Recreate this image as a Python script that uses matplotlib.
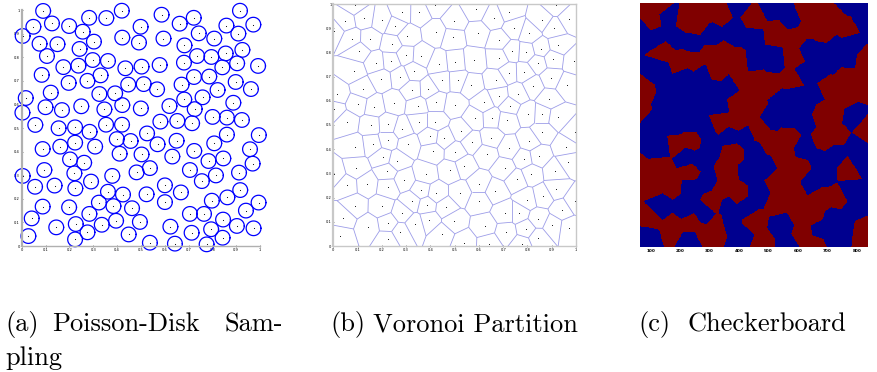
import numpy as np
import matplotlib
matplotlib.use("Agg")
import matplotlib.pyplot as plt
import matplotlib.tri as mtri
from matplotlib.collections import LineCollection
from matplotlib.colors import ListedColormap

# Poisson-disk sample points (unit square)
px = np.array([
    0.090, 0.420, 0.283, 0.355, 0.049, 0.127, 0.199, 0.256, 0.004, 0.075,
    0.150, 0.303, 0.243, 0.422, 0.106, 0.175, 0.238, 0.298, 0.362, 0.435,
    0.084, 0.197, 0.276, 0.331, 0.447, 0.122, 0.326, 0.392, 0.017, 0.100,
    0.169, 0.250, 0.347, 0.422, 0.003,
    0.916, 0.587, 0.722, 0.663, 0.859, 0.972, 0.499, 0.743, 0.909, 0.595,
    0.808, 0.492, 0.683, 0.926, 0.736, 0.796, 0.856, 0.681, 0.904, 0.503,
    0.579, 0.842, 0.992, 0.723, 0.787, 0.898, 0.512, 0.671, 0.568, 0.822,
    0.962, 0.682, 0.759, 0.888, 0.620, 0.726, 0.500, 0.801, 0.861, 0.924,
    0.582, 0.653, 0.715,
    0.526, 0.570, 0.650, 0.861, 0.995, 0.808, 0.724, 0.958, 0.503, 0.632,
    0.784, 0.846, 0.969, 0.538, 0.482, 0.706, 0.815, 0.912, 0.756, 0.601,
    0.668, 0.917, 0.524, 0.601, 0.798, 0.863, 0.994, 0.706, 0.765, 0.941,
    0.496, 0.845, 0.624, 0.795, 0.903, 0.973, 0.713, 0.843, 0.538, 0.643,
    0.776,
    0.057, 0.155, 0.224, 0.285, 0.354, 0.421, 0.399, 0.457, 0.088, 0.162,
    0.224, 0.308, 0.411, 0.203, 0.262, 0.004, 0.095, 0.221, 0.291, 0.380,
    0.056, 0.138, 0.225, 0.362, 0.425, 0.324, 0.385, 0.088, 0.199, 0.463,
    0.284, 0.042, 0.396, 0.145, 0.227, 0.336, 0.028, 0.276, 0.449, 0.224,
])
py = np.array([
    0.996, 0.997, 0.967, 0.966, 0.929, 0.943, 0.932, 0.908, 0.890, 0.857,
    0.855, 0.866, 0.835, 0.883, 0.805, 0.758, 0.764, 0.788, 0.784, 0.753,
    0.725, 0.691, 0.700, 0.723, 0.684, 0.650, 0.644, 0.647, 0.627, 0.588,
    0.576, 0.592, 0.579, 0.597, 0.565,
    0.997, 0.980, 0.967, 0.942, 0.934, 0.938, 0.929, 0.901, 0.900, 0.879,
    0.879, 0.862, 0.850, 0.831, 0.805, 0.801, 0.816, 0.777, 0.774, 0.760,
    0.767, 0.757, 0.763, 0.716, 0.718, 0.695, 0.686, 0.684, 0.664, 0.661,
    0.665, 0.621, 0.630, 0.607, 0.593, 0.580, 0.583, 0.547, 0.544, 0.534,
    0.527, 0.530, 0.520,
    0.477, 0.431, 0.446, 0.472, 0.470, 0.435, 0.403, 0.410, 0.388, 0.379,
    0.360, 0.371, 0.349, 0.330, 0.312, 0.322, 0.299, 0.311, 0.275, 0.257,
    0.227, 0.237, 0.219, 0.186, 0.192, 0.206, 0.184, 0.136, 0.136, 0.150,
    0.102, 0.112, 0.082, 0.071, 0.085, 0.075, 0.056, 0.035, 0.014, 0.010,
    0.007,
    0.513, 0.499, 0.503, 0.484, 0.514, 0.514, 0.453, 0.445, 0.411, 0.421,
    0.438, 0.421, 0.391, 0.367, 0.353, 0.297, 0.322, 0.308, 0.273, 0.297,
    0.251, 0.256, 0.244, 0.230, 0.218, 0.184, 0.169, 0.167, 0.164, 0.160,
    0.136, 0.117, 0.107, 0.079, 0.093, 0.090, 0.042, 0.058, 0.049, 0.028,
])
# checkerboard colour of each cell (1 = red, 0 = blue)
cell_color = np.array([
    1, 0, 1, 1, 1, 0, 1, 1, 0, 0,
    0, 0, 0, 0, 1, 1, 1, 1, 1, 1,
    0, 0, 0, 1, 1, 0, 0, 0, 1, 0,
    0, 0, 0, 1, 1,
    0, 0, 1, 0, 1, 0, 1, 1, 1, 1,
    1, 0, 1, 0, 0, 0, 0, 1, 0, 0,
    0, 0, 1, 0, 0, 1, 1, 1, 1, 1,
    1, 0, 0, 1, 0, 0, 1, 1, 1, 0,
    0, 0, 0,
    1, 1, 1, 1, 1, 1, 0, 0, 0, 1,
    0, 0, 0, 0, 0, 1, 0, 1, 0, 1,
    1, 0, 0, 1, 1, 1, 0, 1, 1, 0,
    1, 0, 0, 0, 0, 1, 1, 0, 1, 0,
    1,
    0, 0, 0, 0, 1, 1, 0, 0, 0, 1,
    1, 0, 1, 0, 0, 1, 1, 1, 0, 1,
    1, 1, 0, 1, 1, 1, 0, 0, 0, 0,
    0, 1, 0, 1, 1, 1, 0, 1, 0, 0,
])

disk_radius = 0.031
unit_ticks = [0, 0.1, 0.2, 0.3, 0.4, 0.5, 0.6, 0.7, 0.8, 0.9, 1]
unit_labels = ["0", "0.1", "0.2", "0.3", "0.4", "0.5", "0.6", "0.7", "0.8", "0.9", "1"]
pix_ticks = [100, 200, 300, 400, 500, 600, 700, 800]
pix_range = (64, 837)

W, H = 878, 372
fig = plt.figure(figsize=(W / 100, H / 100), dpi=100)


def px_axes(x0, y0, x1, y1):
    return fig.add_axes([x0 / W, 1 - y1 / H, (x1 - x0) / W, (y1 - y0) / H])


def small_ticks(ax, color="#b0b0b0"):
    ax.set_xticks(unit_ticks)
    ax.set_xticklabels(unit_labels)
    ax.set_yticks(unit_ticks)
    ax.set_yticklabels(unit_labels)
    ax.tick_params(labelsize=2.6, length=1.5, width=0.5, pad=0.6,
                   direction="inout", color="#555555")
    for s in ax.spines.values():
        s.set_color(color)
        s.set_linewidth(1.0)
    ax.spines["left"].set_linewidth(1.6)


# (a) disks
ax1 = px_axes(21.7, 10, 260, 246)
ax1.set_xlim(0, 1)
ax1.set_ylim(0, 1)
t = np.linspace(0, 2 * np.pi, 60)
for x, y in zip(px, py):
    ax1.plot(x + disk_radius * np.cos(t), y + disk_radius * np.sin(t),
             color="#0000ff", lw=0.9, clip_on=False)
ax1.plot(px, py, ".", color="k", ms=1.6, mew=0, clip_on=False)
small_ticks(ax1)
ax1.spines["top"].set_visible(False)
ax1.spines["right"].set_visible(False)

# (b) Voronoi edges from the Delaunay triangulation
tri = mtri.Triangulation(px, py)
T = tri.triangles
ax_, ay_ = px[T[:, 0]], py[T[:, 0]]
bx_, by_ = px[T[:, 1]], py[T[:, 1]]
cx_, cy_ = px[T[:, 2]], py[T[:, 2]]
d = 2 * (ax_ * (by_ - cy_) + bx_ * (cy_ - ay_) + cx_ * (ay_ - by_))
ux = ((ax_**2 + ay_**2) * (by_ - cy_) + (bx_**2 + by_**2) * (cy_ - ay_)
      + (cx_**2 + cy_**2) * (ay_ - by_)) / d
uy = ((ax_**2 + ay_**2) * (cx_ - bx_) + (bx_**2 + by_**2) * (ax_ - cx_)
      + (cx_**2 + cy_**2) * (bx_ - ax_)) / d
segs = []
for i in range(len(T)):
    for j in range(3):
        n = tri.neighbors[i, j]
        if n > i:
            segs.append([(ux[i], uy[i]), (ux[n], uy[n])])
        elif n == -1:
            p1 = np.array([px[T[i, j]], py[T[i, j]]])
            p2 = np.array([px[T[i, (j + 1) % 3]], py[T[i, (j + 1) % 3]]])
            p3 = np.array([px[T[i, (j + 2) % 3]], py[T[i, (j + 2) % 3]]])
            e = p2 - p1
            nrm = np.array([e[1], -e[0]]) / np.hypot(*e)
            if np.dot(nrm, p3 - p1) > 0:
                nrm = -nrm
            segs.append([(ux[i], uy[i]), (ux[i] + 3 * nrm[0], uy[i] + 3 * nrm[1])])

ax2 = px_axes(333.3, 4, 576, 246)
ax2.add_collection(LineCollection(segs, colors="#9c9ce8", linewidths=0.6))
ax2.plot(px, py, ".", color="k", ms=1.3, mew=0)
ax2.set_xlim(0, 1)
ax2.set_ylim(0, 1)
small_ticks(ax2, color="#c8c8c8")

# (c) two-colour fill of the Voronoi cells
N = 500
g = (np.arange(N) + 0.5) / N
labels = np.empty((N, N), dtype=int)
for r in range(N):
    labels[r] = np.argmin((g[:, None] - px) ** 2 + (g[r] - py) ** 2, axis=1)
board = cell_color[labels]

ax3 = px_axes(640, 3, 868, 247)
ax3.imshow(board, origin="lower", cmap=ListedColormap(["#00008f", "#800000"]),
           extent=(pix_range[0], pix_range[1], 0, 1), aspect="auto",
           interpolation="nearest")
ax3.set_xlim(*pix_range)
ax3.set_ylim(0, 1)
ax3.set_xticks(pix_ticks)
ax3.set_yticks([])
ax3.tick_params(labelsize=3, length=0, pad=1.5)
for lab in ax3.get_xticklabels():
    lab.set_fontweight("bold")
for s in ax3.spines.values():
    s.set_visible(False)

# sub-captions
cap = dict(family="cmr10", fontsize=19, va="baseline", ha="left")
fig.text(5 / W, 1 - 331 / H, "(a)", **cap)
fig.text(52 / W, 1 - 331 / H, "Poisson-Disk", **cap)
fig.text(224 / W, 1 - 331 / H, "Sam-", **cap)
fig.text(5 / W, 1 - 365 / H, "pling", **cap)
fig.text(330 / W, 1 - 331 / H, "(b)", **cap)
fig.text(373 / W, 1 - 331 / H, "Voronoi Partition", **cap)
fig.text(638 / W, 1 - 331 / H, "(c)", **cap)
fig.text(688 / W, 1 - 331 / H, "Checkerboard", **cap)

fig.savefig("out.png", dpi=100)
